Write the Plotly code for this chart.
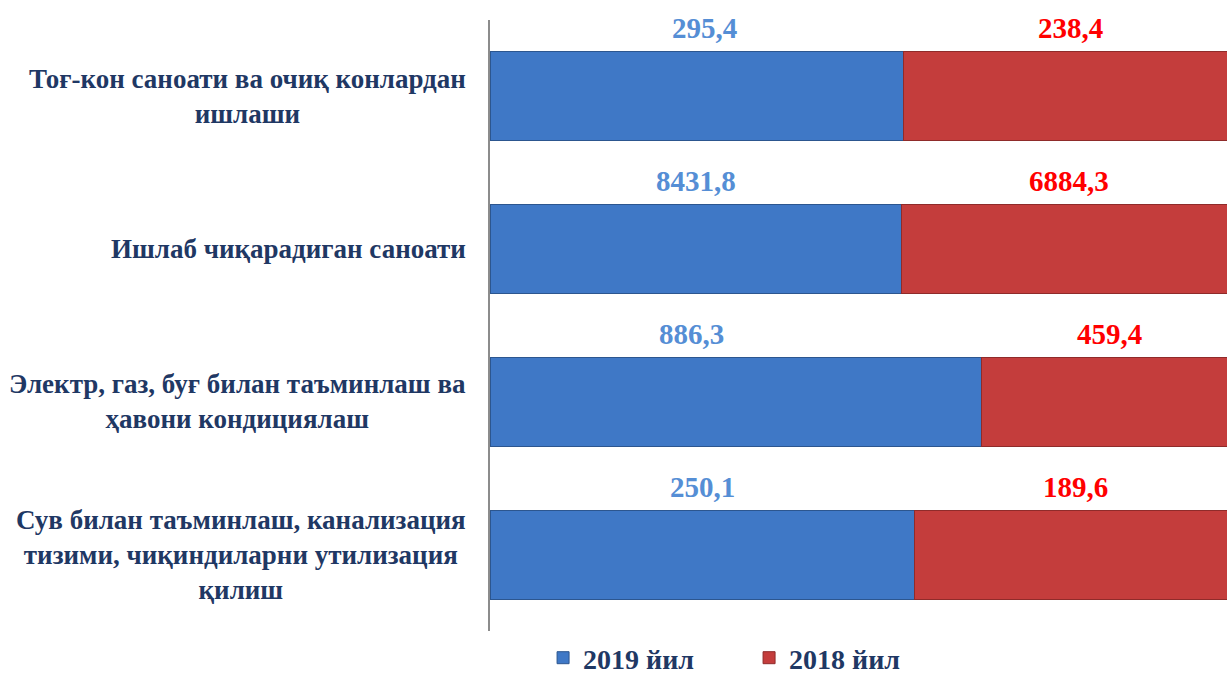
import plotly.graph_objects as go

categories = [
    "Тоғ-кон саноати ва очиқ конлардан<br>ишлаши",
    "Ишлаб чиқарадиган саноати",
    "Электр, газ, буғ билан таъминлаш ва<br>ҳавони кондициялаш",
    "Сув билан таъминлаш, канализация<br>тизими, чиқиндиларни утилизация<br>қилиш",
]
values_2019 = [295.4, 8431.8, 886.3, 250.1]
values_2018 = [238.4, 6884.3, 459.4, 189.6]
labels_2019 = ["295,4", "8431,8", "886,3", "250,1"]
labels_2018 = ["238,4", "6884,3", "459,4", "189,6"]
series_names = ["2019 йил", "2018 йил"]

BLUE = "#3f78c6"
RED = "#c43d3c"
FONT = "Liberation Serif"
NAVY = "#1f3864"

fig = go.Figure()
fig.add_trace(go.Bar(
    y=categories, x=values_2019, orientation="h", name=series_names[0],
    marker=dict(color=BLUE, line=dict(color="#2c568f", width=1)),
    hoverinfo="skip",
))
fig.add_trace(go.Bar(
    y=categories, x=values_2018, orientation="h", name=series_names[1],
    marker=dict(color=RED, line=dict(color="#8f2b2a", width=1)),
    hoverinfo="skip",
))

annotations = []
xshift_2019 = [8, 0, -45, 0]
for i, cat in enumerate(categories):
    tot = values_2019[i] + values_2018[i]
    p = values_2019[i] / tot
    annotations.append(dict(
        x=p / 2, y=cat, xref="x", yref="y", text=labels_2019[i],
        showarrow=False, yshift=68, xshift=xshift_2019[i],
        font=dict(family=FONT, size=29, color="#558ed5", weight="bold"),
    ))
    annotations.append(dict(
        x=(p + 1) / 2, y=cat, xref="x", yref="y", text=labels_2018[i],
        showarrow=False, yshift=68,
        font=dict(family=FONT, size=29, color="#ff0000", weight="bold"),
    ))
    annotations.append(dict(
        x=0, y=cat, xref="paper", yref="y", text="<b>" + cat + "</b>",
        showarrow=False, xanchor="right", xshift=-22, align="center",
        font=dict(family=FONT, size=27, color=NAVY),
    ))

fig.update_layout(
    width=1227, height=683,
    margin=dict(l=490, r=0, t=20, b=52, autoexpand=False),
    barmode="stack", barnorm="fraction", bargap=0.417,
    plot_bgcolor="white", paper_bgcolor="white",
    showlegend=True,
    legend=dict(
        orientation="h", x=0.072, xanchor="left", y=-52 / 611, yanchor="bottom",
        traceorder="normal",
        font=dict(family=FONT, size=28, color=NAVY, weight="bold"),
        entrywidth=161, entrywidthmode="pixels",
        itemclick=False, itemdoubleclick=False,
    ),
    annotations=annotations,
)
fig.update_xaxes(range=[0, 0.9866], showgrid=False, showticklabels=False,
                 zeroline=False, showline=False, fixedrange=True)
fig.update_yaxes(type="category", categoryorder="array", categoryarray=categories,
                 autorange=False, range=[3.5, -0.5],
                 showticklabels=False, showgrid=False,
                 showline=True, linecolor="#8c8c8c", linewidth=1.5,
                 ticks="", fixedrange=True)

post = ("document.body.style.margin='0';document.body.style.padding='0';"
        "document.body.style.overflow='hidden';"
        "document.documentElement.style.overflow='hidden';"
        "var gd=document.getElementById('{plot_id}');"
        "Plotly.relayout(gd,{width:1227,height:683});")

fig.write_html("out.html", post_script=post,
               config={"responsive": False, "displayModeBar": False})
